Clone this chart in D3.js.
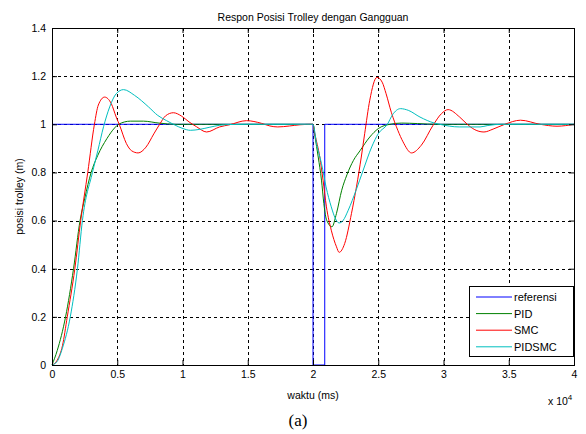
<!DOCTYPE html>
<html>
<head>
<meta charset="utf-8">
<script src="https://cdn.jsdelivr.net/npm/d3@7"></script>
<style>
  body { margin: 0; background: #fff; }
  svg { font-family: "Liberation Sans", Arial, sans-serif; }
</style>
</head>
<body>
<svg width="586" height="434"></svg>
<script>
// time in ms, position in m
var referensi = [[0, 1], [20000, 1], [20000, 0], [20900, 0], [20900, 1], [40000, 1]];

var pid = [[0, 0], [400, 0.06], [1040, 0.2], [1650, 0.4], [2150, 0.6], [2500, 0.69], [3000, 0.8],
  [3500, 0.87], [4200, 0.94], [4800, 0.985], [5100, 1.0], [6000, 1.013], [7000, 1.013], [8200, 1.005],
  [9500, 1.0], [20000, 1.0], [20150, 0.95], [20400, 0.864], [20650, 0.768], [20830, 0.671],
  [20980, 0.615], [21150, 0.59], [21450, 0.574], [21800, 0.63], [22200, 0.726], [22600, 0.79],
  [23100, 0.85], [23600, 0.89], [24350, 0.947], [25000, 0.982], [25900, 1.0], [26800, 1.005],
  [28000, 1.003], [29500, 1.0], [40000, 1.0]];

var smc = [[0, 0], [400, 0.02], [800, 0.08], [1170, 0.2], [1750, 0.4], [2200, 0.6], [2740, 0.8],
  [3250, 1.0], [3550, 1.08], [4030, 1.113], [4540, 1.086], [4920, 1.03], [5180, 0.996], [5700, 0.92],
  [6100, 0.89], [6600, 0.881], [7200, 0.905], [7800, 0.96], [8250, 1.0], [8700, 1.035], [9300, 1.048],
  [9900, 1.035], [10500, 1.01], [11070, 0.99], [11850, 0.968], [12840, 0.989], [13600, 0.998],
  [14900, 1.015], [16050, 1.004], [16700, 0.993], [17300, 0.989], [18200, 0.993], [19000, 0.998],
  [20000, 1.0], [20140, 0.961], [20520, 0.864], [20770, 0.768], [21030, 0.657], [21400, 0.56],
  [21800, 0.491], [22000, 0.468], [22430, 0.505], [22950, 0.63], [23330, 0.74], [23700, 0.864],
  [23960, 0.961], [24350, 1.1], [24900, 1.195], [25300, 1.175], [25600, 1.127], [26000, 1.05],
  [26500, 0.975], [26900, 0.927], [27550, 0.881], [28300, 0.913], [29200, 0.996], [29840, 1.044],
  [30350, 1.061], [31240, 1.03], [31900, 0.996], [32500, 0.975], [33100, 0.968], [33800, 0.98],
  [34700, 1.0], [35900, 1.017], [37400, 1.0], [38700, 0.992], [40000, 1.0]];

var pidsmc = [[0, 0], [400, 0.015], [800, 0.07], [1400, 0.2], [1950, 0.4], [2330, 0.6], [3100, 0.8],
  [3520, 0.892], [3950, 0.99], [4420, 1.072], [4920, 1.127], [5480, 1.144], [6330, 1.12], [7400, 1.072],
  [8100, 1.037], [8780, 1.015], [9300, 1.0], [10050, 0.982], [10600, 0.975], [11330, 0.979],
  [12100, 0.988], [12860, 0.996], [13600, 0.999], [15000, 1.0], [20000, 1.0], [20270, 0.92],
  [20650, 0.837], [21000, 0.74], [21400, 0.657], [21700, 0.61], [22000, 0.59], [22300, 0.6],
  [22700, 0.643], [23300, 0.726], [23850, 0.81], [24500, 0.906], [25000, 0.961], [25700, 1.0],
  [26100, 1.04], [26700, 1.065], [27300, 1.058], [28200, 1.03], [29300, 1.005], [29700, 1.0],
  [31200, 0.989], [32800, 0.989], [33400, 0.995], [34500, 1.0], [40000, 1.0]];

var names = ['referensi', 'PID', 'SMC', 'PIDSMC'];
var colors = ['#0000ff', '#008000', '#ff0000', '#00bfbf'];
var xTicks = [0, 5000, 10000, 15000, 20000, 25000, 30000, 35000, 40000];
var yTicks = [0, 0.2, 0.4, 0.6, 0.8, 1, 1.2, 1.4];

var svg = d3.select('svg');
var pLeft = 52, pRight = 574, pTop = 28, pBottom = 365;

var x = d3.scaleLinear().domain([0, 40000]).range([pLeft, pRight]);
var y = d3.scaleLinear().domain([0, 1.4]).range([pBottom, pTop]);

// dashed grid
var grid = svg.append('g').attr('stroke', '#000').attr('stroke-dasharray', '3,3').attr('stroke-width', 1);
grid.selectAll('.gx').data(xTicks.slice(1, -1)).enter().append('line')
  .attr('x1', function(d) { return Math.round(x(d)) + 0.5; })
  .attr('x2', function(d) { return Math.round(x(d)) + 0.5; })
  .attr('y1', pTop).attr('y2', pBottom);
grid.selectAll('.gy').data(yTicks.slice(1, -1)).enter().append('line')
  .attr('y1', function(d) { return Math.round(y(d)) + 0.5; })
  .attr('y2', function(d) { return Math.round(y(d)) + 0.5; })
  .attr('x1', pLeft).attr('x2', pRight);

// lines
var stepLine = d3.line().x(function(d) { return x(d[0]); }).y(function(d) { return y(d[1]); });
var smooth = d3.line().x(function(d) { return x(d[0]); }).y(function(d) { return y(d[1]); })
  .curve(d3.curveMonotoneX);

var series = [referensi, pid, smc, pidsmc];
var plot = svg.append('g');
series.forEach(function(s, i) {
  plot.append('path')
    .attr('d', i === 0 ? stepLine(s) : smooth(s))
    .attr('fill', 'none')
    .attr('stroke', colors[i])
    .attr('stroke-width', 1);
});

// axes with inward ticks
var fmt = function(d) { return String(+(d / 10000).toFixed(1)); };
svg.append('g').attr('transform', 'translate(0,' + pBottom + ')')
  .call(d3.axisBottom(x).tickValues(xTicks).tickSize(-5).tickPadding(6).tickFormat(fmt));
svg.append('g').attr('transform', 'translate(0,' + pTop + ')')
  .call(d3.axisTop(x).tickValues(xTicks).tickSize(-5).tickFormat(''));
svg.append('g').attr('transform', 'translate(' + pLeft + ',0)')
  .call(d3.axisLeft(y).tickValues(yTicks).tickSize(-5).tickPadding(6)
    .tickFormat(function(d) { return String(d); }));
svg.append('g').attr('transform', 'translate(' + pRight + ',0)')
  .call(d3.axisRight(y).tickValues(yTicks).tickSize(-5).tickFormat(''));

svg.selectAll('.domain').attr('stroke', '#000');
svg.selectAll('.tick line').attr('stroke', '#000');
svg.selectAll('.tick text').attr('font-size', 10.5).attr('fill', '#000')
  .attr('font-family', '"Liberation Sans", Arial, sans-serif');

// frame
svg.append('rect').attr('x', pLeft + 0.5).attr('y', pTop + 0.5)
  .attr('width', pRight - pLeft).attr('height', pBottom - pTop)
  .attr('fill', 'none').attr('stroke', '#000');

// texts
svg.append('text').attr('x', 313).attr('y', 21).attr('text-anchor', 'middle')
  .attr('font-size', 10.5).text('Respon Posisi Trolley dengan Gangguan');
svg.append('text').attr('x', 313).attr('y', 399).attr('text-anchor', 'middle')
  .attr('font-size', 10.5).text('waktu (ms)');
svg.append('text').attr('transform', 'translate(23,' + ((pTop + pBottom) / 2) + ') rotate(-90)')
  .attr('text-anchor', 'middle').attr('font-size', 10.5).text('posisi trolley (m)');
var mult = svg.append('text').attr('x', 548).attr('y', 405).attr('font-size', 10.5);
mult.append('tspan').text('x 10');
mult.append('tspan').attr('dy', -5).attr('font-size', 8).text('4');
svg.append('text').attr('x', 298).attr('y', 426).attr('text-anchor', 'middle')
  .attr('font-family', '"Liberation Serif", "Times New Roman", serif').attr('font-size', 17)
  .text('(a)');

// legend
var lg = svg.append('g');
lg.append('rect').attr('x', 469.5).attr('y', 286.5).attr('width', 104).attr('height', 70)
  .attr('fill', '#fff').attr('stroke', '#000');
names.forEach(function(n, i) {
  var ly = 297 + i * 16.6;
  lg.append('line').attr('x1', 476).attr('x2', 512).attr('y1', ly).attr('y2', ly)
    .attr('stroke', colors[i]);
  lg.append('text').attr('x', 514).attr('y', ly + 4).attr('font-size', 11).text(n);
});
</script>
</body>
</html>
